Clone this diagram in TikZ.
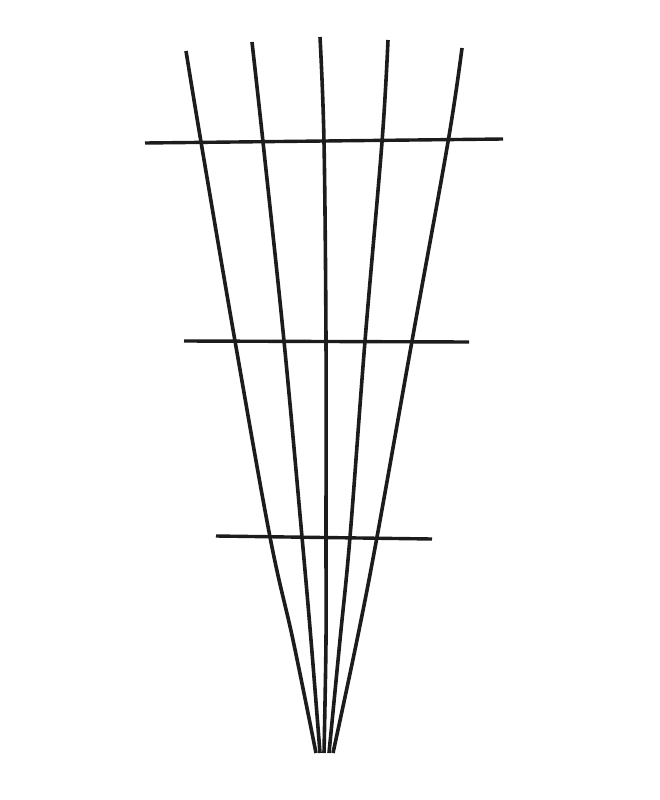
\documentclass[tikz,border=0pt]{standalone}
\usepackage{tikz}
\usetikzlibrary{calc}
\definecolor{rodColor}{RGB}{28, 28, 28}

\begin{document}
\begin{tikzpicture}[
    x=1pt, y=-1pt,
    rod/.style={draw=rodColor, line width=3.6pt, line cap=butt},
    bar/.style={draw=rodColor, line width=3.4pt, line cap=butt}
]
    \useasboundingbox (0,0) rectangle (660,800);

    % Rods, bowed slightly outwards
    \draw[rod] plot[smooth, tension=0.6] coordinates
        {(186,51) (201,142) (235,341) (270,537) (293,640) (316,753)};
    \draw[rod] plot[smooth, tension=0.6] coordinates
        {(252,42) (263,142) (284,341) (302,537) (311,640) (320,753)};
    \draw[rod] plot[smooth, tension=0.6] coordinates
        {(320,37) (324,142) (326,341) (326,537) (326,640) (324,753)};
    \draw[rod] plot[smooth, tension=0.6] coordinates
        {(388,40) (382,142) (365,341) (350,537) (340,640) (329,753)};
    \draw[rod] plot[smooth, tension=0.6] coordinates
        {(462,48) (448,142) (412,341) (377,537) (357,640) (333,753)};

    % Cross bars
    \coordinate (topL) at (145,143);
    \coordinate (topR) at (503,139);
    \coordinate (midL) at (184,341);
    \coordinate (midR) at (469,342);
    \coordinate (lowL) at (216,536);
    \coordinate (lowR) at (432,539);

    \draw[bar] (topL) -- (topR);
    \draw[bar] (midL) -- (midR);
    \draw[bar] (lowL) -- (lowR);

\end{tikzpicture}
\end{document}
